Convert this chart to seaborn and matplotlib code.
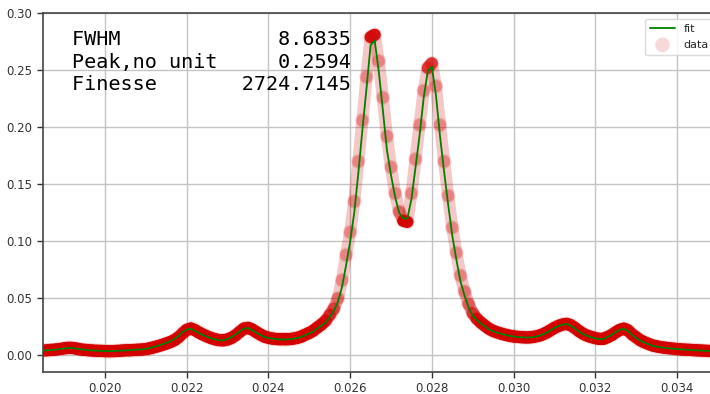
import numpy as np
import pandas as pd
import matplotlib
matplotlib.use("Agg")
import matplotlib.pyplot as plt
import seaborn as sns
from matplotlib.collections import LineCollection
from matplotlib.ticker import FormatStrFormatter, MultipleLocator

# Scan grid: uniform 1e-4 step starting at 0.0185
x_start = 0.0185
x_step = 0.0001

# Fitted transmission curve on the scan grid
fit_y = [
    0.0044, 0.0046, 0.0048, 0.0051, 0.0056, 0.0062, 0.0066, 0.0065, 0.0060, 0.0054,
    0.0050, 0.0047, 0.0044, 0.0042, 0.0040, 0.0039, 0.0038, 0.0039, 0.0040, 0.0043,
    0.0045, 0.0047, 0.0049, 0.0051, 0.0053, 0.0058, 0.0066, 0.0076, 0.0086, 0.0098,
    0.0110, 0.0125, 0.0145, 0.0172, 0.0205, 0.0228, 0.0233, 0.0215, 0.0195, 0.0178,
    0.0163, 0.0150, 0.0140, 0.0133, 0.0132, 0.0145, 0.0162, 0.0185, 0.0213, 0.0236,
    0.0240, 0.0222, 0.0200, 0.0180, 0.0162, 0.0153, 0.0147, 0.0143, 0.0140, 0.0140,
    0.0142, 0.0146, 0.0152, 0.0162, 0.0178, 0.0193, 0.0212, 0.0238, 0.0262, 0.0290,
    0.0340, 0.0390, 0.0470, 0.0600, 0.0790, 0.1000, 0.1250, 0.1600, 0.1980, 0.2340,
    0.2720, 0.2760, 0.2490, 0.2150, 0.1800, 0.1580, 0.1390, 0.1250, 0.1200, 0.1200,
    0.1370, 0.1650, 0.1930, 0.2260, 0.2490, 0.2530, 0.2280, 0.1920, 0.1610, 0.1320,
    0.1050, 0.0840, 0.0650, 0.0525, 0.0420, 0.0350, 0.0310, 0.0280, 0.0255, 0.0230,
    0.0212, 0.0200, 0.0190, 0.0180, 0.0172, 0.0166, 0.0162, 0.0159, 0.0157, 0.0158,
    0.0162, 0.0170, 0.0182, 0.0198, 0.0220, 0.0242, 0.0258, 0.0270, 0.0276, 0.0262,
    0.0238, 0.0210, 0.0188, 0.0172, 0.0160, 0.0150, 0.0143, 0.0145, 0.0162, 0.0180,
    0.0205, 0.0225, 0.0234, 0.0215, 0.0180, 0.0155, 0.0130, 0.0113, 0.0100, 0.0085,
    0.0078, 0.0072, 0.0067, 0.0063, 0.0060, 0.0056, 0.0053, 0.0051, 0.0049, 0.0047,
    0.0045, 0.0043, 0.0041, 0.0039,
]

# Measured signal on the same grid
data_y = [
    0.0043, 0.0047, 0.0049, 0.0052, 0.0057, 0.0063, 0.0067, 0.0066, 0.0060, 0.0053,
    0.0049, 0.0046, 0.0043, 0.0041, 0.0040, 0.0038, 0.0037, 0.0038, 0.0040, 0.0042,
    0.0045, 0.0046, 0.0048, 0.0050, 0.0052, 0.0056, 0.0063, 0.0072, 0.0082, 0.0093,
    0.0105, 0.0118, 0.0135, 0.0160, 0.0195, 0.0225, 0.0236, 0.0222, 0.0200, 0.0182,
    0.0166, 0.0152, 0.0141, 0.0134, 0.0133, 0.0140, 0.0155, 0.0178, 0.0208, 0.0236,
    0.0242, 0.0228, 0.0205, 0.0184, 0.0165, 0.0155, 0.0148, 0.0144, 0.0141, 0.0141,
    0.0143, 0.0147, 0.0154, 0.0165, 0.0182, 0.0198, 0.0218, 0.0246, 0.0272, 0.0305,
    0.0355, 0.0410, 0.0500, 0.0660, 0.0880, 0.1080, 0.1350, 0.1700, 0.2060, 0.2440,
    0.2790, 0.2810, 0.2580, 0.2260, 0.1920, 0.1650, 0.1420, 0.1260, 0.1180, 0.1170,
    0.1420, 0.1720, 0.2020, 0.2320, 0.2520, 0.2560, 0.2360, 0.2020, 0.1700, 0.1400,
    0.1120, 0.0900, 0.0700, 0.0560, 0.0450, 0.0370, 0.0322, 0.0288, 0.0260, 0.0234,
    0.0215, 0.0202, 0.0191, 0.0181, 0.0173, 0.0167, 0.0163, 0.0160, 0.0158, 0.0159,
    0.0163, 0.0171, 0.0183, 0.0199, 0.0220, 0.0242, 0.0259, 0.0271, 0.0277, 0.0265,
    0.0242, 0.0214, 0.0191, 0.0174, 0.0162, 0.0152, 0.0145, 0.0146, 0.0160, 0.0178,
    0.0203, 0.0224, 0.0235, 0.0220, 0.0186, 0.0160, 0.0134, 0.0116, 0.0102, 0.0088,
    0.0080, 0.0073, 0.0068, 0.0064, 0.0060, 0.0056, 0.0053, 0.0051, 0.0049, 0.0047,
    0.0045, 0.0043, 0.0041, 0.0039,
]

x = np.round(x_start + x_step * np.arange(len(fit_y)), 4)

# Summary of the fit
fwhm = 8.6835
peak_value = 0.2594
finesse = 2724.7145

df = pd.DataFrame({"x": x, "fit": fit_y, "data": data_y})

sns.set_theme(style="ticks")
plt.rcParams["font.family"] = ["DejaVu Sans"]

fig = plt.figure(figsize=(7.10, 3.94), dpi=100)
ax = fig.add_axes([0.0606, 0.0558, 0.9535, 0.911])
ax.set_xlim(0.01848, 0.035055)
ax.set_ylim(-0.0145, 0.30)

red = "#d40000"
sns.lineplot(data=df, x="x", y="fit", ax=ax, color="green", lw=1.3,
             label="fit", zorder=4)

# Dense-sample look: band opacity falls off where the trace is steep,
# as a fixed sampling rate spreads the samples along a longer path there.
pts = ax.transData.transform(np.column_stack([df["x"], df["data"]]))
seg_len = np.hypot(np.diff(pts[:, 0]), np.diff(pts[:, 1]))
seg_alpha = np.clip(0.95 * np.median(seg_len) / seg_len, 0.22, 0.95)
segments = np.stack([np.column_stack([df["x"][:-1], df["data"][:-1]]),
                     np.column_stack([df["x"][1:], df["data"][1:]])], axis=1)
rgb = matplotlib.colors.to_rgb(red)
band = LineCollection(segments, colors=[(*rgb, a) for a in seg_alpha],
                      linewidths=8.8, capstyle="round", zorder=2)
ax.add_collection(band)

sns.scatterplot(data=df, x="x", y="data", ax=ax, color=red, s=110,
                alpha=0.15, edgecolor="none", label="data", zorder=3)

ax.xaxis.set_major_locator(MultipleLocator(0.002))
ax.yaxis.set_major_locator(MultipleLocator(0.05))
ax.xaxis.set_major_formatter(FormatStrFormatter("%.3f"))
ax.yaxis.set_major_formatter(FormatStrFormatter("%.2f"))
ax.set_xlabel("")
ax.set_ylabel("")
ax.grid(True, color="#c4c4c4", lw=1.0)
ax.set_axisbelow(True)
ax.tick_params(labelsize=8.5, colors="#333333", length=4, width=1)
for s in ax.spines.values():
    s.set_color("#444444")
    s.set_linewidth(1.2)

summary = (f"{'FWHM':<13}{fwhm:>10.4f}\n"
           f"{'Peak,no unit':<13}{peak_value:>10.4f}\n"
           f"{'Finesse':<13}{finesse:>10.4f}")
ax.text(0.0425, 0.953, summary, transform=ax.transAxes, ha="left", va="top",
        family="DejaVu Sans Mono", fontsize=14.5, linespacing=1.24,
        color="black", zorder=6)

leg = ax.legend(loc="upper right", fontsize=8, frameon=True,
                framealpha=0.85, edgecolor="#d5d5d5", borderpad=0.5,
                handlelength=2.2)

fig.savefig("out.png", dpi=100)
